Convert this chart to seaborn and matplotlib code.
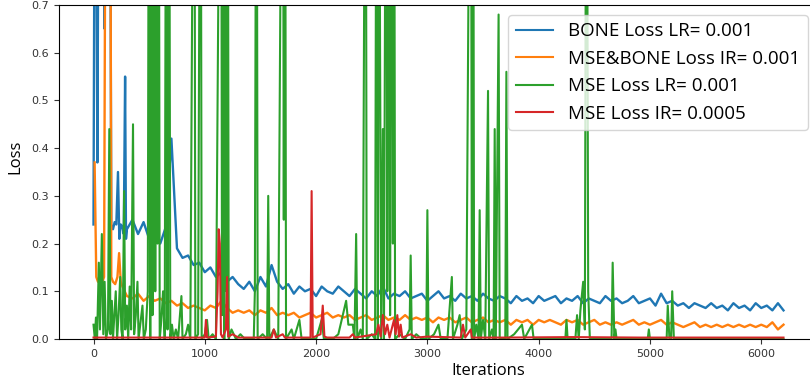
import numpy as np
import seaborn as sns
import matplotlib.pyplot as plt

# BONE Loss LR=0.001 (blue): dichter Anfang, danach alle 50 Iterationen
bone_head_it = [0, 10, 25, 35, 45, 90, 100, 110, 150, 160, 175, 190, 205, 220, 232, 245, 260, 272, 284, 292]
bone_head = [0.24, 1.0, 0.9, 0.37, 1.0, 1.0, 0.65, 1.0, 1.0, 0.24, 0.23, 0.245, 0.24, 0.35, 0.21, 0.24, 0.235, 0.22, 0.55, 0.21]
bone_tail = [
    0.23, 0.25, 0.22, 0.245, 0.21, 0.24, 0.20, 0.235, 0.42, 0.19,        # 300-750
    0.17, 0.175, 0.155, 0.16, 0.14, 0.15, 0.13, 0.14, 0.12, 0.13,        # 800-1250
    0.115, 0.105, 0.12, 0.10, 0.13, 0.11, 0.155, 0.12, 0.105, 0.115,     # 1300-1750
    0.095, 0.11, 0.10, 0.105, 0.09, 0.11, 0.10, 0.095, 0.11, 0.10,       # 1800-2250
    0.09, 0.105, 0.095, 0.085, 0.10, 0.09, 0.11, 0.085, 0.095, 0.09,     # 2300-2750
    0.10, 0.085, 0.09, 0.095, 0.08, 0.09, 0.10, 0.085, 0.09, 0.08,       # 2800-3250
    0.095, 0.085, 0.09, 0.08, 0.095, 0.085, 0.08, 0.09, 0.085, 0.075,    # 3300-3750
    0.09, 0.08, 0.085, 0.075, 0.09, 0.08, 0.085, 0.09, 0.075, 0.085,     # 3800-4250
    0.08, 0.09, 0.075, 0.085, 0.08, 0.075, 0.09, 0.08, 0.085, 0.075,     # 4300-4750
    0.08, 0.09, 0.075, 0.08, 0.085, 0.07, 0.095, 0.075, 0.08, 0.07,      # 4800-5250
    0.075, 0.065, 0.075, 0.07, 0.065, 0.075, 0.065, 0.07, 0.06, 0.075,   # 5300-5750
    0.065, 0.07, 0.06, 0.075, 0.065, 0.07, 0.06, 0.075, 0.06,            # 5800-6200
]

# MSE&BONE Loss (orange)
mb_head_it = [10, 25, 40, 60, 80, 95, 110, 150, 160, 175, 195, 215, 230, 245, 260, 280]
mb_head = [0.37, 0.13, 0.12, 0.125, 0.12, 0.13, 1.2, 1.2, 0.13, 0.12, 0.115, 0.13, 0.18, 0.12, 0.11, 0.10]
mb_tail = [
    0.09, 0.085, 0.095, 0.08, 0.09, 0.08, 0.085, 0.075, 0.08, 0.07,      # 300-750
    0.075, 0.065, 0.07, 0.065, 0.06, 0.07, 0.065, 0.08, 0.065, 0.055,    # 800-1250
    0.06, 0.055, 0.06, 0.05, 0.06, 0.055, 0.065, 0.05, 0.055, 0.05,      # 1300-1750
    0.055, 0.045, 0.05, 0.055, 0.045, 0.05, 0.055, 0.045, 0.05, 0.045,   # 1800-2250
    0.05, 0.04, 0.045, 0.05, 0.04, 0.045, 0.05, 0.04, 0.045, 0.04,       # 2300-2750
    0.05, 0.04, 0.045, 0.04, 0.045, 0.035, 0.045, 0.04, 0.045, 0.035,    # 2800-3250
    0.04, 0.045, 0.035, 0.04, 0.045, 0.035, 0.04, 0.035, 0.04, 0.03,     # 3300-3750
    0.04, 0.035, 0.04, 0.03, 0.04, 0.035, 0.04, 0.035, 0.03, 0.04,       # 3800-4250
    0.035, 0.04, 0.03, 0.035, 0.04, 0.03, 0.035, 0.03, 0.035, 0.03,      # 4300-4750
    0.035, 0.04, 0.03, 0.035, 0.03, 0.035, 0.04, 0.03, 0.035, 0.03,      # 4800-5250
    0.025, 0.03, 0.035, 0.025, 0.03, 0.025, 0.03, 0.025, 0.03, 0.025,    # 5300-5750
    0.03, 0.025, 0.03, 0.025, 0.03, 0.025, 0.035, 0.02, 0.03,            # 5800-6200
]

# MSE Loss LR=0.001 (green): Spitzen ueber 0.7 sind abgeschnitten
mse_it = [
    0, 12, 22, 32, 48, 58, 75, 88, 100, 112, 130, 142, 152, 165, 175, 190, 200, 212, 225, 240,
    250, 262, 275, 285, 300, 312, 325, 338, 355, 365, 380, 395, 405, 420, 440, 452, 470, 488, 500, 510,
    520, 530, 545, 555, 565, 575, 585, 595, 610, 625, 640, 655, 665, 678, 690, 705, 720, 740, 760, 790,
    800, 830, 850, 870, 905, 915, 940, 962, 972, 1000, 1020, 1035, 1070, 1100, 1145, 1155, 1165, 1175, 1185, 1195,
    1205, 1215, 1240, 1280, 1320, 1360, 1440, 1450, 1465, 1475, 1520, 1560, 1570, 1580, 1620, 1660, 1700, 1710, 1720, 1730,
    1780, 1800, 1850, 1870, 2000, 2050, 2070, 2150, 2200, 2270, 2290, 2330, 2345, 2360, 2370, 2400, 2420, 2445, 2455, 2500,
    2530, 2545, 2555, 2565, 2575, 2585, 2600, 2610, 2630, 2640, 2655, 2665, 2680, 2690, 2700, 2710, 2750, 2800, 2840, 2850,
    2860, 2900, 2950, 2990, 3000, 3010, 3060, 3100, 3120, 3180, 3220, 3230, 3270, 3290, 3310, 3350, 3390, 3400, 3410, 3420,
    3440, 3460, 3470, 3480, 3500, 3520, 3545, 3555, 3580, 3595, 3605, 3615, 3640, 3650, 3700, 3710, 3720, 3780, 3850, 3870,
    3940, 3955, 4240, 4250, 4260, 4330, 4345, 4360, 4375, 4400, 4415, 4430, 4445, 4460, 4655, 4665, 4680, 4690, 4700, 4980,
    4990, 5000, 5150, 5160, 5175, 5190, 5200, 5215, 5600, 6200,
]
mse = [
    0.03, 0.0, 0.045, 0.0, 0.16, 0.02, 0.22, 0.01, 0.12, 0.0, 0.02, 0.44, 0.01, 0.08, 0.0, 0.06, 0.10, 0.0, 0.05, 0.13,
    0.02, 0.0, 0.31, 0.02, 0.07, 0.0, 0.11, 0.02, 0.45, 0.01, 0.05, 0.12, 0.0, 0.03, 0.07, 0.0, 0.02, 0.10, 1.5, 0.0,
    1.5, 0.05, 1.5, 0.10, 1.5, 0.20, 1.5, 0.0, 0.04, 0.10, 0.0, 1.5, 0.02, 1.5, 0.0, 0.03, 0.0, 0.02, 0.0, 0.09,
    0.0, 0.01, 0.03, 0.0, 1.5, 0.0, 0.01, 1.5, 0.0, 0.01, 0.04, 0.0, 0.01, 0.0, 1.5, 0.05, 1.5, 0.0, 1.5, 0.10,
    1.5, 0.0, 0.02, 0.0, 0.01, 0.0, 0.0, 0.10, 1.5, 0.0, 0.01, 0.0, 0.30, 0.0, 0.02, 0.0, 1.5, 0.25, 1.5, 0.0,
    0.02, 0.0, 0.04, 0.0, 0.0, 0.04, 0.0, 0.0, 0.01, 0.08, 0.03, 0.03, 0.0, 0.22, 0.0, 0.02, 0.0, 1.5, 0.0, 0.01,
    0.0, 1.5, 0.0, 1.5, 0.60, 0.0, 0.44, 0.0, 1.5, 0.10, 1.5, 0.05, 1.5, 0.20, 1.5, 0.0, 0.01, 0.0, 0.02, 0.175,
    0.0, 0.01, 0.0, 0.0, 0.27, 0.0, 0.01, 0.03, 0.0, 0.0, 0.13, 0.0, 0.03, 0.05, 0.0, 0.02, 1.5, 0.0, 1.5, 0.0,
    0.03, 0.0, 0.27, 0.0, 0.04, 0.0, 0.52, 0.0, 0.02, 0.0, 0.44, 0.0, 0.68, 0.0, 0.0, 0.56, 0.0, 0.01, 0.03, 0.0,
    0.03, 0.0, 0.0, 0.04, 0.0, 0.0, 0.05, 0.0, 0.06, 0.12, 0.02, 1.5, 0.10, 0.0, 0.0, 0.16, 0.0, 0.02, 0.0, 0.0,
    0.02, 0.0, 0.0, 0.07, 0.0, 0.0, 0.10, 0.0, 0.0, 0.0,
]

# MSE Loss IR=0.0005 (red)
mse2_it = [
    0, 1000, 1010, 1020, 1100, 1115, 1125, 1135, 1145, 1160, 1190, 1200, 1210, 1250, 1300, 1600, 1620, 1640, 1700, 1720,
    1950, 1960, 1970, 2040, 2060, 2075, 2100, 2300, 2330, 2350, 2540, 2560, 2580, 2600, 2620, 2640, 2660, 2700, 2715, 2730,
    2745, 2760, 2775, 2850, 2900, 3000, 3300, 3320, 3340, 3390, 3400, 3700, 4300, 4900, 6200,
]
mse2 = [
    0.003, 0.003, 0.04, 0.003, 0.005, 0.10, 0.23, 0.20, 0.01, 0.003, 0.02, 0.13, 0.005, 0.01, 0.003, 0.003, 0.02, 0.003, 0.01, 0.003,
    0.003, 0.31, 0.003, 0.01, 0.07, 0.005, 0.003, 0.003, 0.01, 0.003, 0.01, 0.03, 0.005, 0.05, 0.01, 0.03, 0.003, 0.04, 0.01, 0.05,
    0.005, 0.03, 0.003, 0.01, 0.003, 0.005, 0.003, 0.03, 0.003, 0.02, 0.003, 0.003, 0.004, 0.003, 0.003,
]

labels = ["BONE Loss LR= 0.001", "MSE&BONE Loss IR= 0.001", "MSE Loss LR= 0.001", "MSE Loss IR= 0.0005"]
farben = ["#1f77b4", "#ff7f0e", "#2ca02c", "#d62728"]
breiten = [1.7, 1.7, 1.5, 1.5]

bone_it = bone_head_it + list(np.arange(300, 6201, 50))
mb_it = mb_head_it + list(np.arange(300, 6201, 50))
bone_all = bone_head + bone_tail
mb_all = mb_head + mb_tail

fig = plt.figure(figsize=(8.1, 3.87), dpi=100)
ax = fig.add_axes([59 / 810, 1 - 339 / 387, 759 / 810, 334 / 387])

serien = [(bone_it, bone_all), (mb_it, mb_all), (mse_it, mse), (mse2_it, mse2)]
for (xs, ys), lab, c, lw in zip(serien, labels, farben, breiten):
    sns.lineplot(x=xs, y=ys, ax=ax, color=c, label=lab, linewidth=lw, sort=False)

ax.set_xlim(-310, 6510)
ax.set_ylim(0, 0.7)
ax.set_yticks(np.arange(0, 0.71, 0.1))
ax.set_xticks(range(0, 6001, 1000))
ax.tick_params(labelsize=8, colors="#333333")
ax.set_xlabel("Iterations", fontsize=12, family="Open Sans")
ax.set_ylabel("Loss", fontsize=12, family="Open Sans")
ax.xaxis.set_label_coords(0.565, -0.072)
ax.yaxis.set_label_coords(-0.047, 0.545)

leg = ax.legend(loc="upper right", bbox_to_anchor=(808 / 810, 1 - 15 / 387), bbox_transform=fig.transFigure,
                borderaxespad=0, prop={"family": "Open Sans", "size": 13.5})
for h in leg.get_lines():
    h.set_linewidth(1.5)

fig.savefig("out.png", dpi=100)
